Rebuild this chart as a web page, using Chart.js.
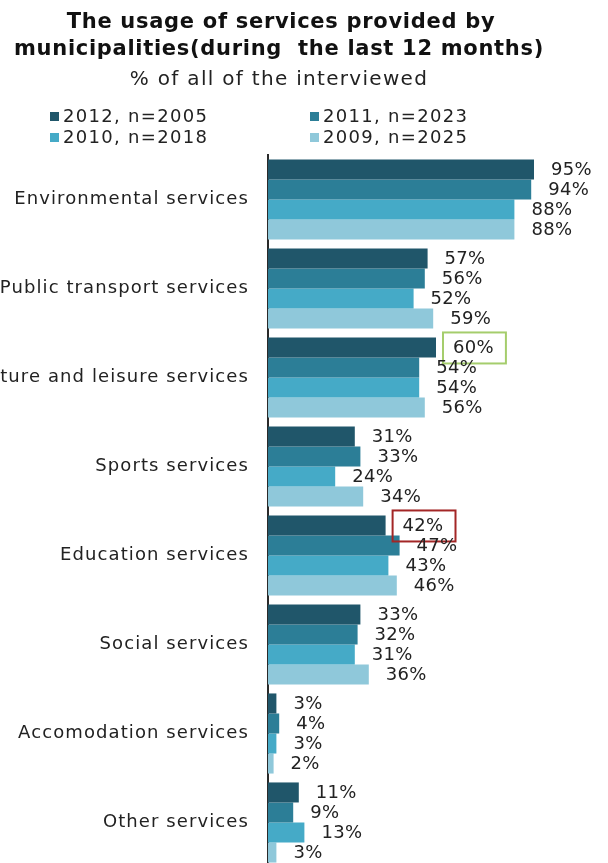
<!DOCTYPE html>
<html>
<head>
<meta charset="utf-8">
<script src="https://cdn.jsdelivr.net/npm/chart.js@4/dist/chart.umd.min.js"></script>
<style>
  html, body { margin: 0; padding: 0; background: #fff; overflow: hidden; }
  #wrap { position: relative; width: 608px; height: 863px; overflow: hidden; }
  canvas { display: block; }
</style>
</head>
<body>
<div id="wrap"><canvas id="c" width="608" height="867"></canvas></div>
<script>
// Service categories (vertical axis)
const categories = [
  'Environmental services',
  'Public transport services',
  'Culture and leisure services',
  'Sports services',
  'Education services',
  'Social services',
  'Accomodation services',
  'Other services'
];

// Survey waves
const seriesNames = ['2012, n=2005', '2011, n=2023', '2010, n=2018', '2009, n=2025'];

// Share of respondents (%) per wave
const values2012 = [95, 57, 60, 31, 42, 33, 3, 11];
const values2011 = [94, 56, 54, 33, 47, 32, 4, 9];
const values2010 = [88, 52, 54, 24, 43, 31, 3, 13];
const values2009 = [88, 59, 56, 34, 46, 36, 2, 3];

// Value labels that get a frame around them: [category, wave, colour key]
const framedLabels = [[2, 0, 'green'], [4, 0, 'red']];

const titleLines = ['The usage of services provided by', 'municipalities(during  the last 12 months)'];
const subtitleText = '% of all of the interviewed';

const colors = ['#20566a', '#2c7e97', '#45aac7', '#8fc8da'];
const frameColors = { green: '#a5cd6c', red: '#a32626' };
const FONT = '"DejaVu Sans", Verdana, sans-serif';

const seriesValues = [values2012, values2011, values2010, values2009];

// Wider letter spacing for the axis labels
const spacingPlugin = {
  id: 'spacing',
  beforeDraw(chart) { chart.ctx.letterSpacing = '1.1px'; }
};

// Title, subtitle and two-column legend
const headerPlugin = {
  id: 'header',
  afterDraw(chart) {
    const ctx = chart.ctx;
    ctx.save();
    ctx.fillStyle = '#111';
    ctx.textAlign = 'left';
    ctx.textBaseline = 'middle';

    const centred = (txt, cx, y) => {
      const w = ctx.measureText(txt).width;
      ctx.fillText(txt, cx - w / 2, y);
    };
    ctx.letterSpacing = '0.7px';
    ctx.font = 'bold 21px ' + FONT;
    centred(titleLines[0], 281, 23);
    centred(titleLines[1], 279, 50);
    ctx.letterSpacing = '1.3px';
    ctx.font = '20px ' + FONT;
    ctx.fillStyle = '#222';
    centred(subtitleText, 279, 80);

    const pos = [[50, 117], [310, 117], [50, 138], [310, 138]];
    ctx.font = '18px ' + FONT;
    ctx.letterSpacing = '1.3px';
    chart.data.datasets.forEach((ds, i) => {
      const [x, y] = pos[i];
      ctx.fillStyle = ds.backgroundColor;
      ctx.fillRect(x, y - 5, 9, 9);
      ctx.fillStyle = '#222';
      ctx.fillText(ds.label, x + 13, y);
    });
    ctx.restore();
  }
};

// Percentage labels at the end of every bar
const valueLabelPlugin = {
  id: 'valueLabels',
  afterDatasetsDraw(chart) {
    const ctx = chart.ctx;
    ctx.save();
    ctx.font = '18px ' + FONT;
    ctx.letterSpacing = '0.3px';
    ctx.textAlign = 'left';
    ctx.textBaseline = 'middle';
    chart.data.datasets.forEach((ds, di) => {
      const meta = chart.getDatasetMeta(di);
      meta.data.forEach((bar, ci) => {
        const txt = ds.data[ci] + '%';
        const x = bar.x + 17;
        const y = bar.y + 1;
        ctx.fillStyle = '#222';
        ctx.fillText(txt, x, y);
        const f = framedLabels.find(p => p[0] === ci && p[1] === di);
        if (f) {
          const w = ctx.measureText(txt).width;
          ctx.strokeStyle = frameColors[f[2]];
          ctx.lineWidth = 2;
          ctx.strokeRect(x - 10, y - 16, w + 22, 31);
        }
      });
    });
    ctx.restore();
  }
};

new Chart(document.getElementById('c'), {
  type: 'bar',
  data: {
    labels: categories,
    datasets: seriesNames.map((name, i) => ({
      label: name,
      data: seriesValues[i],
      backgroundColor: colors[i],
      borderWidth: 0,
      categoryPercentage: 0.9,
      barPercentage: 1.0
    }))
  },
  options: {
    indexAxis: 'y',
    responsive: false,
    animation: false,
    devicePixelRatio: 1,
    layout: { padding: { top: 155, right: 60, bottom: 0, left: 0 } },
    plugins: {
      legend: { display: false },
      title: { display: false },
      tooltip: { enabled: false }
    },
    scales: {
      x: {
        min: 0,
        max: 100,
        display: false
      },
      y: {
        grid: { display: false, drawTicks: false },
        border: { display: true, color: '#2a2a2a', width: 2 },
        ticks: {
          color: '#222',
          padding: 19,
          font: { family: FONT, size: 18 }
        },
        afterFit(scale) {
          scale.width = 268;
          scale.paddingTop = 0;
          scale.paddingBottom = 0;
        }
      }
    }
  },
  plugins: [spacingPlugin, headerPlugin, valueLabelPlugin]
});
</script>
</body>
</html>
